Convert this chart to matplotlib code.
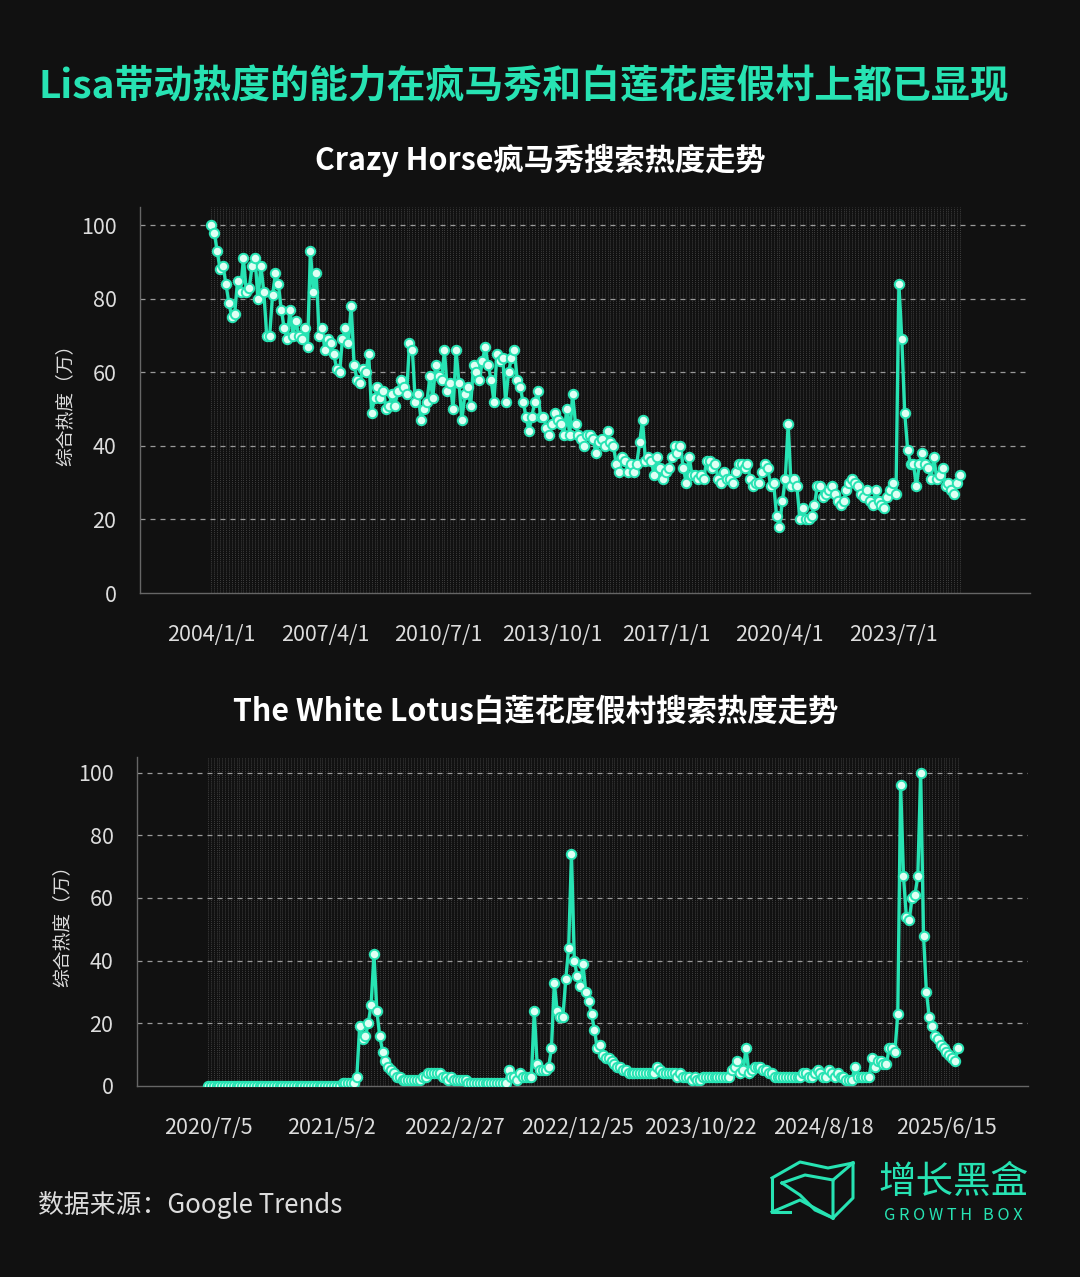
import numpy as np
import matplotlib
matplotlib.use("Agg")
import matplotlib.pyplot as plt
from matplotlib.lines import Line2D

plt.rcParams['font.family'] = ['Noto Sans CJK SC', 'DejaVu Sans']

# Crazy Horse: monthly, 2004/1 .. 2025/6
crazy_horse = (
    [100, 98, 93, 88, 89, 84, 79, 75, 76, 85, 82, 91] +   # 2004
    [82, 83, 89, 91, 80, 89, 82, 70, 70, 81, 87, 84] +    # 2005
    [77, 72, 69, 77, 70, 74, 70, 69, 72, 67, 93, 82] +    # 2006
    [87, 70, 72, 66, 69, 68, 65, 61, 60, 69, 72, 68] +    # 2007
    [78, 62, 58, 57, 61, 60, 65, 49, 53, 56, 53, 55] +    # 2008
    [50, 51, 54, 51, 55, 58, 56, 54, 68, 66, 52, 54] +    # 2009
    [47, 50, 52, 59, 53, 62, 59, 58, 66, 55, 57, 50] +    # 2010
    [66, 57, 47, 54, 56, 51, 62, 60, 58, 63, 67, 62] +    # 2011
    [58, 52, 65, 63, 64, 52, 60, 64, 66, 58, 56, 52] +    # 2012
    [48, 44, 48, 52, 55, 48, 48, 45, 43, 46, 49, 47] +    # 2013
    [46, 43, 50, 43, 54, 46, 43, 42, 40, 43, 43, 42] +    # 2014
    [38, 41, 42, 40, 44, 41, 40, 35, 33, 37, 36, 33] +    # 2015
    [35, 33, 35, 41, 47, 36, 37, 36, 32, 37, 34, 31] +    # 2016
    [33, 34, 37, 40, 38, 40, 34, 30, 37, 32, 32, 31] +    # 2017
    [32, 31, 36, 36, 34, 35, 31, 30, 33, 31, 31, 30] +    # 2018
    [33, 35, 35, 34, 35, 31, 29, 30, 30, 33, 35, 34] +    # 2019
    [29, 30, 21, 18, 25, 31, 46, 29, 31, 29, 20, 23] +    # 2020
    [20, 20, 21, 24, 29, 29, 26, 27, 28, 29, 27, 25] +    # 2021
    [24, 25, 28, 30, 31, 30, 29, 27, 26, 28, 25, 24] +    # 2022
    [28, 25, 24, 23, 26, 28, 30, 27, 84, 69, 49, 39] +    # 2023
    [35, 35, 29, 35, 38, 35, 34, 31, 37, 31, 32, 34] +    # 2024
    [29, 30, 28, 27, 30, 32]                              # 2025
)
crazy_ticks = [0, 39, 78, 117, 156, 195, 234]
crazy_labels = ['2004/1/1', '2007/4/1', '2010/7/1', '2013/10/1', '2017/1/1', '2020/4/1', '2023/7/1']

# The White Lotus: weekly, 2020/7/5 .. 2025/7
white_lotus = (
    [0] * 47 +
    [1, 1, 1, 1, 1, 3, 19, 15, 16, 20, 26, 42, 24, 16, 11, 8, 6, 5, 4, 3] +
    [3, 2, 2, 2, 2, 2, 2, 2, 3, 3, 4, 4, 4, 4, 4, 3, 3, 2, 3, 2, 2, 2, 2, 2, 1, 1] +
    [1] * 12 +
    [5, 3, 3, 2, 4, 3, 3, 3, 3, 24, 7, 5, 5, 5] +
    [6, 12, 33, 24, 22, 22, 34, 44, 74, 40, 35, 32, 39, 30, 27, 23, 18, 12, 13, 10,
     9, 9, 8, 7, 6, 6, 5, 5] +
    [4, 4, 4, 4, 4, 4, 4, 4, 4, 4] +
    [6, 5, 4, 4, 4, 4, 4, 3, 4, 3, 3, 3, 2, 3, 2, 2, 3, 3, 3, 3, 3, 3, 3, 3, 3, 3] +
    [5, 6, 8, 4, 5, 12, 4, 5, 6, 6, 6, 5, 5, 4, 4] +
    [3, 3, 3, 3, 3, 3, 3, 3, 3, 3, 4, 4, 3, 3, 4, 5, 4, 3, 3, 5, 4, 3, 4, 3, 3, 2, 2, 2] +
    [6, 3, 3, 3, 3, 3, 9, 6, 8, 8, 7, 7, 12, 12, 11, 23] +
    [96, 67, 54, 53, 60, 61, 67, 100, 48, 30, 22, 19, 16, 15, 13, 12, 11, 10, 9, 8, 12]
)
lotus_ticks = [0, 43, 86, 129, 172, 215, 258]
lotus_labels = ['2020/7/5', '2021/5/2', '2022/2/27', '2022/12/25', '2023/10/22', '2024/8/18', '2025/6/15']

BG = '#111111'
TEAL = '#27e3b3'
W, H = 1080, 1277

fig = plt.figure(figsize=(W / 100, H / 100), dpi=100, facecolor=BG)


def draw_panel(rect, values, ticks, labels, pad_left, pad_right):
    ax = fig.add_axes(rect, facecolor=BG)
    x = np.arange(len(values))
    # dense dotted verticals, one per data point
    ax.vlines(x, 0, 105, colors='#3c3c3c', linewidth=0.75, linestyles=(0, (1, 1)), zorder=1)
    for yv in [20, 40, 60, 80, 100]:
        ax.axhline(yv, color='#9a9a9a', linewidth=0.9, linestyle=(0, (4, 4)), zorder=2)
    ax.plot(x, values, color=TEAL, linewidth=2.4, zorder=3)
    ax.plot(x, values, linestyle='none', marker='o', markersize=6.8,
            markerfacecolor='#dffff4', markeredgecolor=TEAL, markeredgewidth=1.4, zorder=4)
    ax.set_xlim(-pad_left, len(values) - 1 + pad_right)
    ax.set_ylim(0, 105)
    ax.set_yticks([0, 20, 40, 60, 80, 100])
    ax.set_xticks(ticks)
    ax.set_xticklabels(labels)
    ax.tick_params(axis='both', length=0, colors='#dddddd', labelsize=15.5)
    ax.tick_params(axis='x', pad=22)
    ax.tick_params(axis='y', pad=17)
    for s in ['top', 'right']:
        ax.spines[s].set_visible(False)
    for s in ['left', 'bottom']:
        ax.spines[s].set_color('#666666')
        ax.spines[s].set_linewidth(1.0)
    ax.set_ylabel('综合热度（万）', color='#dddddd', fontsize=13.5, labelpad=4)
    return ax


ax1 = draw_panel([140 / W, 1 - 593 / H, 890 / W, (593 - 207) / H],
                 crazy_horse, crazy_ticks, crazy_labels, 24.5, 24)
ax2 = draw_panel([137 / W, 1 - 1086 / H, 891 / W, (1086 - 757) / H],
                 white_lotus, lotus_ticks, lotus_labels, 24.8, 24.5)

fig.text(38 / W, 1 - 87 / H, 'Lisa带动热度的能力在疯马秀和白莲花度假村上都已显现',
         color=TEAL, fontsize=28, fontweight='bold', ha='left', va='center')
fig.text(540 / W, 1 - 160 / H, 'Crazy Horse疯马秀搜索热度走势',
         color='white', fontsize=21.8, fontweight='bold', ha='center', va='center')
fig.text(536 / W, 1 - 712 / H, 'The White Lotus白莲花度假村搜索热度走势',
         color='white', fontsize=21.9, fontweight='bold', ha='center', va='center')
fig.text(38 / W, 1 - 1205 / H, '数据来源：Google Trends',
         color='#dddddd', fontsize=18.6, ha='left', va='center')

# logo
fig.text(953 / W, 1 - 1182 / H, '增长黑盒', color=TEAL, fontsize=27,
         ha='center', va='center')
fig.text(953 / W, 1 - 1215 / H, 'G R O W T H   B O X', color=TEAL, fontsize=11.8,
         ha='center', va='center')
icon = [
    [(772, 1178), (800, 1162), (828, 1168), (853, 1163)],
    [(853, 1163), (853, 1198), (833, 1218)],
    [(833, 1218), (833, 1180), (853, 1163)],
    [(833, 1180), (805, 1175), (782, 1183)],
    [(772, 1178), (772, 1212), (790, 1212)],
    [(772, 1212), (800, 1200), (833, 1218)],
    [(782, 1183), (800, 1195), (815, 1210), (833, 1218)],
]
for seg in icon:
    xs = [p[0] / W for p in seg]
    ys = [1 - p[1] / H for p in seg]
    fig.add_artist(Line2D(xs, ys, color=TEAL, linewidth=2.2, transform=fig.transFigure))

fig.savefig('out.png', dpi=100, facecolor=BG)
